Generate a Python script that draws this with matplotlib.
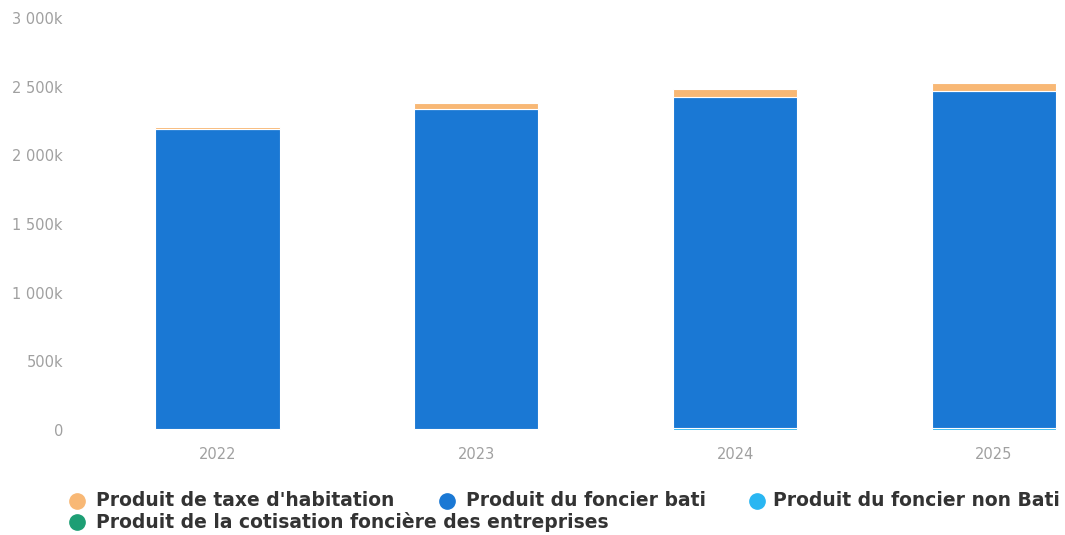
import numpy as np
import matplotlib.pyplot as plt
from matplotlib.lines import Line2D
from matplotlib.ticker import FuncFormatter

# values in thousands of euros
years = ['2022', '2023', '2024', '2025']
taxe_habitation = [14, 48, 52, 55]
foncier_bati = [2184, 2330, 2410, 2452]
foncier_non_bati = [5, 6, 18, 18]
cfe = [0, 0, 0, 0]

labels = ["Produit de taxe d'habitation", "Produit du foncier bati",
          "Produit du foncier non Bati", "Produit de la cotisation foncière des entreprises"]
colors = ['#f8b875', '#1a78d4', '#29b6f2', '#1d9e74']

W, H = 1065, 535
fig = plt.figure(figsize=(W / 100, H / 100), dpi=100)
ax = fig.add_axes([88 / W, 1 - 430 / H, 1 - 88 / W, 412 / H])

x = np.arange(len(years))
w = 0.48
# stack from the bottom: CFE, non bati, bati, taxe d'habitation
series = [cfe, foncier_non_bati, foncier_bati, taxe_habitation]
cols = [colors[3], colors[2], colors[1], colors[0]]
bottom = np.zeros(len(years))
for vals, c in zip(series, cols):
    vals = np.array(vals, dtype=float)
    ax.bar(x, vals, w, bottom=bottom, color=c, edgecolor='white', linewidth=0.8)
    bottom += vals

ax.set_xlim(-0.5, (W - 217) / 259)
ax.set_ylim(0, 3000)
ax.set_yticks(np.arange(0, 3001, 500))
ax.yaxis.set_major_formatter(FuncFormatter(
    lambda v, p: '0' if v == 0 else f'{int(v):,}k'.replace(',', ' ')))
ax.set_xticks(x)
ax.set_xticklabels(years)
ax.tick_params(axis='both', length=0, colors='#a0a0a0', labelsize=10.5)
ax.tick_params(axis='x', pad=12)
ax.tick_params(axis='y', pad=18)
for s in ax.spines.values():
    s.set_visible(False)

# legend items placed by hand: (marker x, text x, row y) in pixels
legend_pos = [(77, 96, 501), (447, 466, 501), (757, 773, 501), (77, 96, 522)]
for (mx, tx, ty), lab, c in zip(legend_pos, labels, colors):
    fig.add_artist(Line2D([mx / W], [1 - ty / H], transform=fig.transFigure,
                          marker='o', markersize=11, color=c, linestyle=''))
    fig.text(tx / W, 1 - ty / H, lab, ha='left', va='center',
             fontsize=13.5, fontweight='bold', color='#333333')

fig.savefig('out.png', dpi=100)
